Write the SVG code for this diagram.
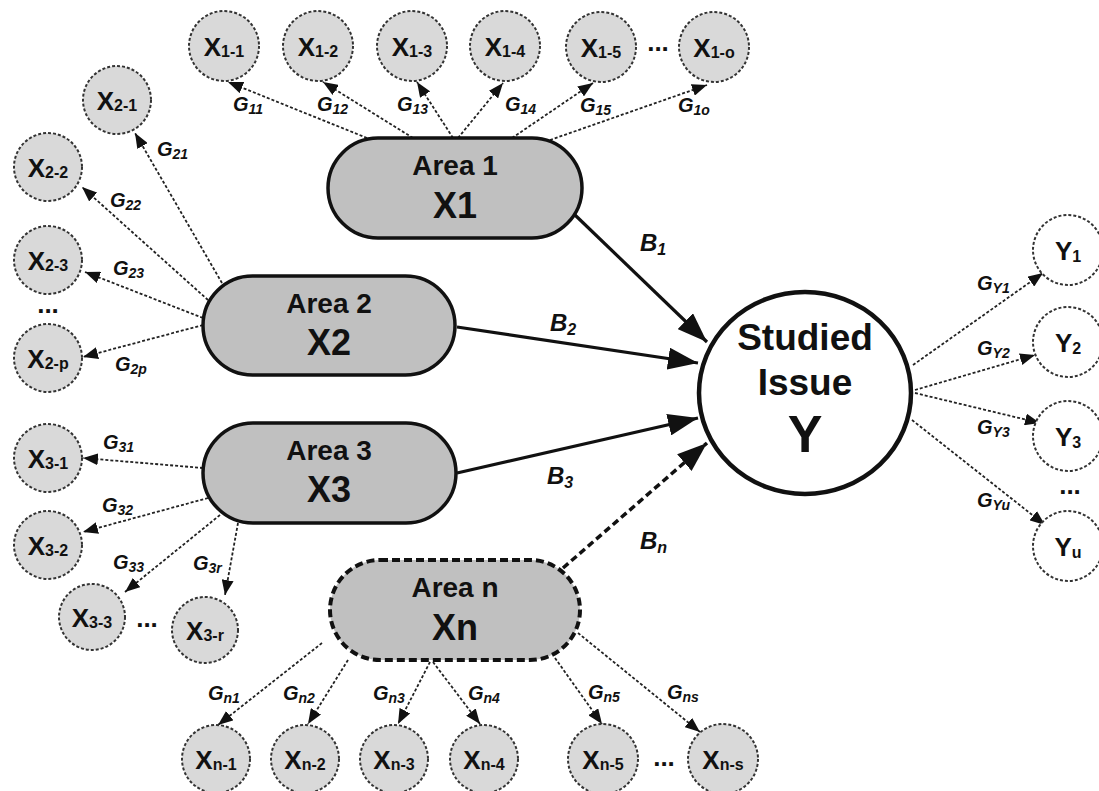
<svg xmlns="http://www.w3.org/2000/svg" width="1099" height="791" viewBox="0 0 1099 791">
<style>
text{font-family:"Liberation Sans",Arial,sans-serif;font-weight:bold;fill:#111}
.sm{fill:#d9d9d9;stroke:#333;stroke-width:2;stroke-dasharray:3 2}
.ys{fill:#fff;stroke:#333;stroke-width:2;stroke-dasharray:3 2}
.area{fill:#c0c0c0;stroke:#111;stroke-width:3.5}
.arean{fill:#c0c0c0;stroke:#111;stroke-width:4;stroke-dasharray:8 4}
.xt{font-size:26px;text-anchor:middle}
.xt tspan{font-size:16px}
.g{font-size:20px;font-style:italic}
.g tspan{font-size:14px}
.b{font-size:24px;font-style:italic}
.b tspan{font-size:16px}
.at{font-size:28px;text-anchor:middle}
.ax{font-size:36px;text-anchor:middle}
.dots{font-size:26px;text-anchor:middle}
.dl{fill:none;stroke:#222;stroke-width:1.8;stroke-dasharray:3 2;marker-end:url(#sa)}
.sl{fill:none;stroke:#111;stroke-width:3.2;marker-end:url(#ba)}
.dln{fill:none;stroke:#111;stroke-width:3.5;stroke-dasharray:7 4;marker-end:url(#ba)}
</style>
<defs>
<marker id="sa" markerUnits="userSpaceOnUse" markerWidth="15" markerHeight="12" refX="15" refY="6" orient="auto"><path d="M0,0 L15,6 L0,12 z" fill="#111"/></marker>
<marker id="ba" markerUnits="userSpaceOnUse" markerWidth="30" markerHeight="22" refX="30" refY="11" orient="auto"><path d="M0,0 L30,11 L0,22 z" fill="#111"/></marker>
</defs>
<rect width="1099" height="791" fill="#fff"/>

<g id="connectors">
<line class="dl" x1="367" y1="138" x2="228" y2="82"/>
<line class="dl" x1="413" y1="138" x2="323" y2="82"/>
<line class="dl" x1="453" y1="138" x2="417" y2="82"/>
<line class="dl" x1="458" y1="138" x2="503" y2="83"/>
<line class="dl" x1="512" y1="138" x2="593" y2="83"/>
<line class="dl" x1="550" y1="140" x2="707" y2="85"/>
<line class="dl" x1="222" y1="283" x2="135" y2="133"/>
<line class="dl" x1="208" y1="300" x2="82" y2="187"/>
<line class="dl" x1="203" y1="318" x2="85" y2="272"/>
<line class="dl" x1="203" y1="325" x2="83" y2="357"/>
<line class="dl" x1="203" y1="468" x2="83" y2="458"/>
<line class="dl" x1="208" y1="498" x2="83" y2="532"/>
<line class="dl" x1="220" y1="515" x2="125" y2="592"/>
<line class="dl" x1="238" y1="523" x2="225" y2="595"/>
<line class="dl" x1="322" y1="643" x2="218" y2="725"/>
<line class="dl" x1="348" y1="660" x2="308" y2="724"/>
<line class="dl" x1="430" y1="662" x2="398" y2="724"/>
<line class="dl" x1="433" y1="662" x2="480" y2="724"/>
<line class="dl" x1="555" y1="658" x2="602" y2="724"/>
<line class="dl" x1="578" y1="633" x2="700" y2="732"/>
<line class="dl" x1="913" y1="365" x2="1043" y2="273"/>
<line class="dl" x1="915" y1="390" x2="1035" y2="355"/>
<line class="dl" x1="915" y1="393" x2="1040" y2="423"/>
<line class="dl" x1="912" y1="420" x2="1045" y2="525"/>
<line class="sl" x1="575" y1="215" x2="707" y2="342"/>
<line class="sl" x1="457" y1="327" x2="698" y2="363"/>
<line class="sl" x1="457" y1="473" x2="698" y2="418"/>
<line class="dln" x1="563" y1="568" x2="707" y2="443"/>
<text class="g" x="233" y="111">G<tspan dy="3">11</tspan></text>
<text class="g" x="317" y="111">G<tspan dy="3">12</tspan></text>
<text class="g" x="397" y="111">G<tspan dy="3">13</tspan></text>
<text class="g" x="505" y="111">G<tspan dy="3">14</tspan></text>
<text class="g" x="580" y="112">G<tspan dy="3">15</tspan></text>
<text class="g" x="678" y="112">G<tspan dy="3">1o</tspan></text>
<text class="g" x="157" y="156">G<tspan dy="3">21</tspan></text>
<text class="g" x="110" y="207">G<tspan dy="3">22</tspan></text>
<text class="g" x="113" y="275">G<tspan dy="3">23</tspan></text>
<text class="g" x="115" y="371">G<tspan dy="3">2p</tspan></text>
<text class="g" x="103" y="449">G<tspan dy="3">31</tspan></text>
<text class="g" x="102" y="512">G<tspan dy="3">32</tspan></text>
<text class="g" x="113" y="569">G<tspan dy="3">33</tspan></text>
<text class="g" x="193" y="570">G<tspan dy="3">3r</tspan></text>
<text class="g" x="208" y="700">G<tspan dy="3">n1</tspan></text>
<text class="g" x="283" y="700">G<tspan dy="3">n2</tspan></text>
<text class="g" x="373" y="700">G<tspan dy="3">n3</tspan></text>
<text class="g" x="468" y="700">G<tspan dy="3">n4</tspan></text>
<text class="g" x="588" y="699">G<tspan dy="3">n5</tspan></text>
<text class="g" x="667" y="699">G<tspan dy="3">ns</tspan></text>
<text class="g" x="977" y="290">G<tspan dy="3">Y1</tspan></text>
<text class="g" x="977" y="355">G<tspan dy="3">Y2</tspan></text>
<text class="g" x="977" y="434">G<tspan dy="3">Y3</tspan></text>
<text class="g" x="977" y="507">G<tspan dy="3">Yu</tspan></text>
<text class="b" x="640" y="251">B<tspan dy="4">1</tspan></text>
<text class="b" x="550" y="331">B<tspan dy="4">2</tspan></text>
<text class="b" x="547" y="484">B<tspan dy="4">3</tspan></text>
<text class="b" x="640" y="549">B<tspan dy="4">n</tspan></text>
</g>

<g id="area1"><rect class="area" x="328" y="138" width="254" height="100" rx="50"/><text class="at" x="455" y="175">Area 1</text><text class="ax" x="455" y="218">X1</text></g>
<g id="area2"><rect class="area" x="203" y="276" width="252" height="99" rx="49.5"/><text class="at" x="329" y="313">Area 2</text><text class="ax" x="329" y="355">X2</text></g>
<g id="area3"><rect class="area" x="203" y="423" width="253" height="100" rx="50"/><text class="at" x="329" y="460">Area 3</text><text class="ax" x="329" y="502">X3</text></g>
<g id="arean"><rect class="arean" x="330" y="560" width="250" height="100" rx="50"/><text class="at" x="455" y="597">Area n</text><text class="ax" x="455" y="640">Xn</text></g>

<g id="studied"><ellipse cx="805" cy="393" rx="106" ry="101" fill="#fff" stroke="#111" stroke-width="4.5"/>
<text x="805" y="350" style="font-size:37px;text-anchor:middle">Studied</text>
<text x="805" y="395" style="font-size:37px;text-anchor:middle">Issue</text>
<text x="805" y="452" style="font-size:52px;text-anchor:middle">Y</text></g>

<g id="x1-1"><circle class="sm" cx="224" cy="46" r="35"/><text class="xt" x="224" y="56">X<tspan dy="1">1-1</tspan></text></g>
<g id="x1-2"><circle class="sm" cx="318" cy="46" r="35"/><text class="xt" x="318" y="56">X<tspan dy="1">1-2</tspan></text></g>
<g id="x1-3"><circle class="sm" cx="412" cy="46" r="35"/><text class="xt" x="412" y="56">X<tspan dy="1">1-3</tspan></text></g>
<g id="x1-4"><circle class="sm" cx="505" cy="46" r="35"/><text class="xt" x="505" y="56">X<tspan dy="1">1-4</tspan></text></g>
<g id="x1-5"><circle class="sm" cx="601" cy="47" r="35"/><text class="xt" x="601" y="57">X<tspan dy="1">1-5</tspan></text></g>
<g id="x1-o"><circle class="sm" cx="714" cy="47" r="35"/><text class="xt" x="714" y="57">X<tspan dy="1">1-o</tspan></text></g>
<text class="dots" x="658" y="51">...</text>

<g id="x2-1"><circle class="sm" cx="117" cy="100" r="34"/><text class="xt" x="117" y="110">X<tspan dy="1">2-1</tspan></text></g>
<g id="x2-2"><circle class="sm" cx="48" cy="167" r="34"/><text class="xt" x="48" y="177">X<tspan dy="1">2-2</tspan></text></g>
<g id="x2-3"><circle class="sm" cx="48" cy="260" r="34"/><text class="xt" x="48" y="270">X<tspan dy="1">2-3</tspan></text></g>
<g id="x2-p"><circle class="sm" cx="48" cy="358" r="34"/><text class="xt" x="48" y="368">X<tspan dy="1">2-p</tspan></text></g>
<text class="dots" x="48" y="313">...</text>

<g id="x3-1"><circle class="sm" cx="48" cy="458" r="34"/><text class="xt" x="48" y="468">X<tspan dy="1">3-1</tspan></text></g>
<g id="x3-2"><circle class="sm" cx="48" cy="545" r="34"/><text class="xt" x="48" y="555">X<tspan dy="1">3-2</tspan></text></g>
<g id="x3-3"><circle class="sm" cx="92" cy="617" r="33"/><text class="xt" x="92" y="627">X<tspan dy="1">3-3</tspan></text></g>
<g id="x3-r"><circle class="sm" cx="205" cy="630" r="33"/><text class="xt" x="205" y="640">X<tspan dy="1">3-r</tspan></text></g>
<text class="dots" x="147" y="627">...</text>

<g id="xn-1"><circle class="sm" cx="216" cy="759" r="34"/><text class="xt" x="216" y="769">X<tspan dy="1">n-1</tspan></text></g>
<g id="xn-2"><circle class="sm" cx="305" cy="759" r="34"/><text class="xt" x="305" y="769">X<tspan dy="1">n-2</tspan></text></g>
<g id="xn-3"><circle class="sm" cx="394" cy="759" r="34"/><text class="xt" x="394" y="769">X<tspan dy="1">n-3</tspan></text></g>
<g id="xn-4"><circle class="sm" cx="484" cy="759" r="34"/><text class="xt" x="484" y="769">X<tspan dy="1">n-4</tspan></text></g>
<g id="xn-5"><circle class="sm" cx="603" cy="759" r="35"/><text class="xt" x="603" y="769">X<tspan dy="1">n-5</tspan></text></g>
<g id="xn-s"><circle class="sm" cx="723" cy="759" r="35"/><text class="xt" x="723" y="769">X<tspan dy="1">n-s</tspan></text></g>
<text class="dots" x="664" y="766">...</text>

<g id="y1"><circle class="ys" cx="1068" cy="250" r="35"/><text class="xt" x="1068" y="260">Y<tspan dy="2">1</tspan></text></g>
<g id="y2"><circle class="ys" cx="1068" cy="342" r="35"/><text class="xt" x="1068" y="352">Y<tspan dy="2">2</tspan></text></g>
<g id="y3"><circle class="ys" cx="1068" cy="436" r="35"/><text class="xt" x="1068" y="446">Y<tspan dy="2">3</tspan></text></g>
<g id="yu"><circle class="ys" cx="1068" cy="546" r="35"/><text class="xt" x="1068" y="556">Y<tspan dy="2">u</tspan></text></g>
<text class="dots" x="1070" y="494">...</text>
</svg>
